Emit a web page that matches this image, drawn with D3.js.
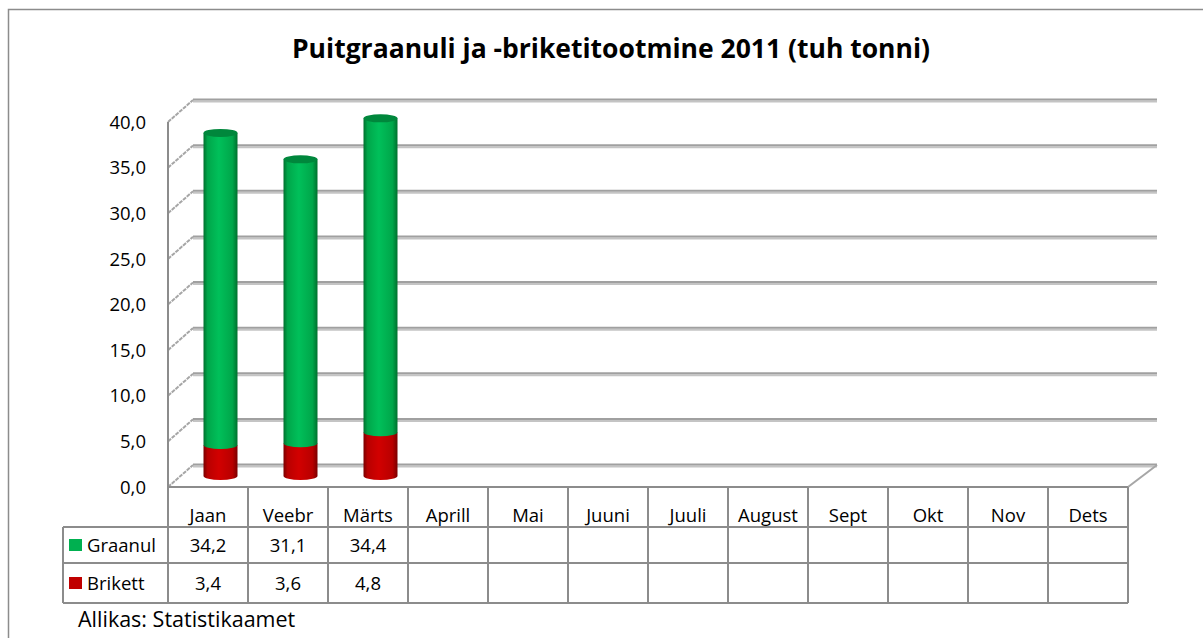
<!DOCTYPE html>
<html>
<head>
<meta charset="utf-8">
<script src="https://cdn.jsdelivr.net/npm/d3@7"></script>
<style>
  body { margin: 0; background: #fff; }
  text { font-family: "Open Sans", Lato, sans-serif; fill: #000; }
</style>
</head>
<body>
<script>
// chart data
var months = ["Jaan", "Veebr", "Märts", "Aprill", "Mai", "Juuni", "Juuli", "August", "Sept", "Okt", "Nov", "Dets"];
var graanul = [34.2, 31.1, 34.4, null, null, null, null, null, null, null, null, null];
var brikett = [3.4, 3.6, 4.8, null, null, null, null, null, null, null, null, null];
var yTicks = [0, 5, 10, 15, 20, 25, 30, 35, 40];
var seriesNames = ["Graanul", "Brikett"];
var seriesColors = ["#00b050", "#c00000"];

var width = 1203, height = 638;
var fs = "18.5px";

// front plane of the 3d box
var plotLeft = 168, plotRight = 1128, plotTop = 122, plotBottom = 487;
// depth offset of the back wall
var dx = 25, dy = -22;
var backRight = 1157;

var svg = d3.select("body").append("svg")
    .attr("width", width)
    .attr("height", height);

var defs = svg.append("defs");

// horizontal gradients so the bars look like cylinders
function cylGradient(id, dark, mid, light) {
    var g = defs.append("linearGradient").attr("id", id)
        .attr("x1", "0%").attr("x2", "100%").attr("y1", "0%").attr("y2", "0%");
    g.append("stop").attr("offset", "0%").attr("stop-color", dark);
    g.append("stop").attr("offset", "12%").attr("stop-color", mid);
    g.append("stop").attr("offset", "45%").attr("stop-color", light);
    g.append("stop").attr("offset", "85%").attr("stop-color", mid);
    g.append("stop").attr("offset", "100%").attr("stop-color", dark);
}
cylGradient("gGreen", "#00702e", "#00a64a", "#00c05a");
cylGradient("gRed", "#7a0000", "#b80000", "#d20000");

// outer chart border
svg.append("rect")
    .attr("x", 8.5).attr("y", 9.5)
    .attr("width", 1200).attr("height", 640)
    .attr("fill", "none")
    .attr("stroke", "#8c8c8c")
    .attr("stroke-width", 1.5);

// title
svg.append("text")
    .attr("x", 611).attr("y", 58)
    .attr("text-anchor", "middle")
    .style("font-size", "26.5px")
    .style("font-weight", "bold")
    .text("Puitgraanuli ja -briketitootmine 2011 (tuh tonni)");

// scales
var y = d3.scaleLinear().domain([0, 40]).range([plotBottom, plotTop]);
var x = d3.scaleBand().domain(months).range([plotLeft, plotRight]);

// gridlines on back wall and side wall
var grid = svg.append("g");
yTicks.forEach(function (t) {
    var yy = y(t);
    grid.append("line")
        .attr("x1", plotLeft + dx).attr("x2", backRight)
        .attr("y1", yy + dy + 1.5).attr("y2", yy + dy + 1.5)
        .attr("stroke", "#c4c4c4").attr("stroke-width", 2);
    grid.append("line")
        .attr("x1", plotLeft + dx).attr("x2", backRight)
        .attr("y1", yy + dy - 0.5).attr("y2", yy + dy - 0.5)
        .attr("stroke", "#a0a0a0").attr("stroke-width", 2);
    grid.append("line")
        .attr("x1", plotLeft).attr("y1", yy)
        .attr("x2", plotLeft + dx).attr("y2", yy + dy)
        .attr("stroke", "#a6a6a6").attr("stroke-width", 2)
        .attr("stroke-dasharray", "4,1");
});

// floor right edge
svg.append("line")
    .attr("x1", plotRight).attr("y1", plotBottom)
    .attr("x2", backRight).attr("y2", plotBottom + dy)
    .attr("stroke", "#a6a6a6").attr("stroke-width", 2);

// y axis line
svg.append("line")
    .attr("x1", plotLeft).attr("x2", plotLeft)
    .attr("y1", plotTop).attr("y2", plotBottom)
    .attr("stroke", "#8c8c8c").attr("stroke-width", 2);

// y labels
svg.append("g").selectAll("text")
    .data(yTicks)
    .enter().append("text")
    .attr("x", 146)
    .attr("y", function (d) { return y(d); })
    .attr("dy", "0.36em")
    .attr("text-anchor", "end")
    .style("font-size", fs)
    .text(function (d) { return d3.format(".1f")(d).replace(".", ","); });

// stacked cylinder bars, placed halfway into the depth
var stack = months.map(function (m, i) {
    return { m: m, b: brikett[i], g: graanul[i] };
}).filter(function (d) { return d.b != null; });

var barW = 34, ry = 4;
var bars = svg.append("g");
stack.forEach(function (d) {
    var cx = x(d.m) + x.bandwidth() / 2 + dx / 2;
    var base = function (v) { return y(v) + dy / 2; };
    var segs = [
        { v0: 0, v1: d.b, fill: "url(#gRed)" },
        { v0: d.b, v1: d.b + d.g, fill: "url(#gGreen)" }
    ];
    segs.forEach(function (s) {
        var y0 = base(s.v0), y1 = base(s.v1);
        bars.append("path")
            .attr("d", "M" + (cx - barW / 2) + "," + y1 +
                " L" + (cx - barW / 2) + "," + y0 +
                " A" + (barW / 2) + "," + ry + " 0 0 0 " + (cx + barW / 2) + "," + y0 +
                " L" + (cx + barW / 2) + "," + y1 + " Z")
            .attr("fill", s.fill);
    });
    // top cap
    var yt = base(d.b + d.g);
    bars.append("ellipse")
        .attr("cx", cx).attr("cy", yt)
        .attr("rx", barW / 2).attr("ry", ry)
        .attr("fill", "#00873c");
});

// data table
var rowY = [plotBottom, 527, 563, 603];
var legendLeft = 63;
var table = svg.append("g")
    .attr("stroke", "#8c8c8c")
    .attr("stroke-width", 2);

table.append("line")
    .attr("x1", plotLeft).attr("x2", plotRight)
    .attr("y1", rowY[0]).attr("y2", rowY[0]);
[1, 2, 3].forEach(function (r) {
    table.append("line")
        .attr("x1", legendLeft).attr("x2", plotRight)
        .attr("y1", rowY[r]).attr("y2", rowY[r]);
});
months.concat(["end"]).forEach(function (m, i) {
    var xx = plotLeft + i * x.bandwidth();
    table.append("line")
        .attr("x1", xx).attr("x2", xx)
        .attr("y1", rowY[0]).attr("y2", rowY[3]);
});
table.append("line")
    .attr("x1", legendLeft).attr("x2", legendLeft)
    .attr("y1", rowY[1]).attr("y2", rowY[3]);

// month labels
svg.append("g").selectAll("text")
    .data(months)
    .enter().append("text")
    .attr("x", function (d) { return x(d) + x.bandwidth() / 2; })
    .attr("y", 522)
    .attr("text-anchor", "middle")
    .style("font-size", fs)
    .text(function (d) { return d; });

// series rows
var rows = [graanul, brikett];
rows.forEach(function (vals, r) {
    var cy = (rowY[r + 1] + rowY[r + 2]) / 2;
    svg.append("rect")
        .attr("x", 69).attr("y", cy - 6)
        .attr("width", 13).attr("height", 12)
        .attr("fill", seriesColors[r]);
    svg.append("text")
        .attr("x", 87).attr("y", cy)
        .attr("dy", "0.36em")
        .style("font-size", fs)
        .text(seriesNames[r]);
    svg.append("g").selectAll("text")
        .data(vals)
        .enter().append("text")
        .filter(function (d) { return d != null; })
        .attr("x", function (d, i) { return x(months[i]) + x.bandwidth() / 2; })
        .attr("y", cy)
        .attr("dy", "0.38em")
        .attr("text-anchor", "middle")
        .style("font-size", fs)
        .text(function (d) { return d3.format(".1f")(d).replace(".", ","); });
});

// source
svg.append("text")
    .attr("x", 78).attr("y", 627)
    .style("font-size", "21.5px")
    .text("Allikas: Statistikaamet");
</script>
</body>
</html>
